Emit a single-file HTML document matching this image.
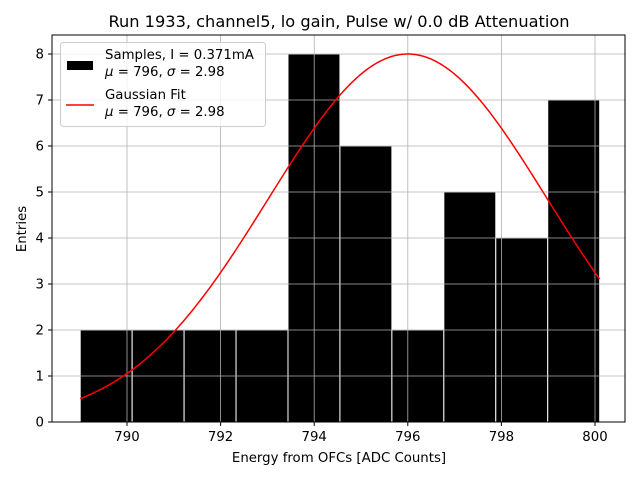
<!DOCTYPE html>
<html><head><meta charset="utf-8"><style>
body{margin:0;background:#fff;}
svg{font-family:"DejaVu Sans","Liberation Sans",sans-serif;}
</style></head><body>
<svg id="chart" width="640" height="480" viewBox="0 0 640 480">
<rect width="640" height="480" fill="#fff"/>
<text x="339" y="27" font-size="16.2" text-anchor="middle">Run 1933, channel5, lo gain, Pulse w/ 0.0 dB Attenuation</text>
<g id="bars"></g>
<g id="grid"></g>
<g id="fit"></g>
<rect x="52" y="35" width="573" height="387" fill="none" stroke="#000" stroke-width="1"/>
<g id="ticks" font-size="13.3"></g>
<text x="339" y="462" font-size="13.3" text-anchor="middle">Energy from OFCs [ADC Counts]</text>
<text x="26" y="229" font-size="13.3" text-anchor="middle" transform="rotate(-90 26 229)">Entries</text>
<g>
<rect x="60.5" y="42.5" width="205" height="84" rx="3" fill="#fff" fill-opacity="0.8" stroke="#ccc"/>
<g>
<rect x="67" y="61" width="26" height="9" fill="#000"/>
<text x="105" y="59" font-size="13.3">Samples, I = 0.371mA</text>
<text x="105" y="76" font-size="13.3"><tspan font-style="italic">μ</tspan> = 796, <tspan font-style="italic">σ</tspan> = 2.98</text>
</g>
<g>
<line x1="66" y1="105" x2="94" y2="105" stroke="#f00" stroke-width="1.5"/>
<text x="105" y="99" font-size="13.3">Gaussian Fit</text>
<text x="105" y="116" font-size="13.3"><tspan font-style="italic">μ</tspan> = 796, <tspan font-style="italic">σ</tspan> = 2.98</text>
</g>
</g>
</svg>
<script>
const binStart = 789.0;
const binWidth = 1.11;
const counts = [2,2,2,2,8,6,2,5,4,7];
const fitParams = [8.0, 796.0, 2.98];
const xTicks = [790,792,794,796,798,800];
const yTicks = [0,1,2,3,4,5,6,7,8];

const NS="http://www.w3.org/2000/svg";
const X=v=>127+(v-790)*46.8;
const Y=v=>422-v*46;
function mk(tag,attrs,parent){const e=document.createElementNS(NS,tag);for(const k in attrs)e.setAttribute(k,attrs[k]);parent.appendChild(e);return e;}
const grid=document.getElementById('grid'),bars=document.getElementById('bars'),fit=document.getElementById('fit'),ticks=document.getElementById('ticks');
xTicks.forEach(t=>{
  const g=mk('line',{x1:X(t),x2:X(t),y1:35,y2:422,stroke:'#b0b0b0','stroke-width':0.8},grid);
  
  
  mk('line',{x1:X(t),x2:X(t),y1:422,y2:426,stroke:'#000'},ticks);
  const l=mk('text',{x:X(t),y:441,'text-anchor':'middle'},ticks);l.textContent=t;
  
  
});
yTicks.forEach(t=>{
  const g=mk('line',{x1:52,x2:625,y1:Y(t),y2:Y(t),stroke:'#b0b0b0','stroke-width':0.8},grid);
  
  
  mk('line',{x1:48,x2:52,y1:Y(t),y2:Y(t),stroke:'#000'},ticks);
  const l=mk('text',{x:44,y:Y(t)+4.5,'text-anchor':'end'},ticks);l.textContent=t;
  
  
});
counts.forEach((c,i)=>{
  const x0=X(binStart+i*binWidth),x1=X(binStart+(i+1)*binWidth);
  const r=mk('rect',{x:x0,y:Y(c),width:x1-x0,height:Y(0)-Y(c),fill:'#000',stroke:'#fff','stroke-width':1},bars);
  
  
});
const [A,mu,sg]=fitParams;
const xEnd=binStart+counts.length*binWidth;
let d='';
for(let i=0;i<=200;i++){const v=binStart+(xEnd-binStart)*i/200;const y=A*Math.exp(-((v-mu)**2)/(2*sg*sg));d+=(i?'L':'M')+X(v).toFixed(2)+' '+Y(y).toFixed(2);}
const p=mk('path',{d:d,fill:'none',stroke:'#f00','stroke-width':1.5},fit);


</script>
</body></html>
